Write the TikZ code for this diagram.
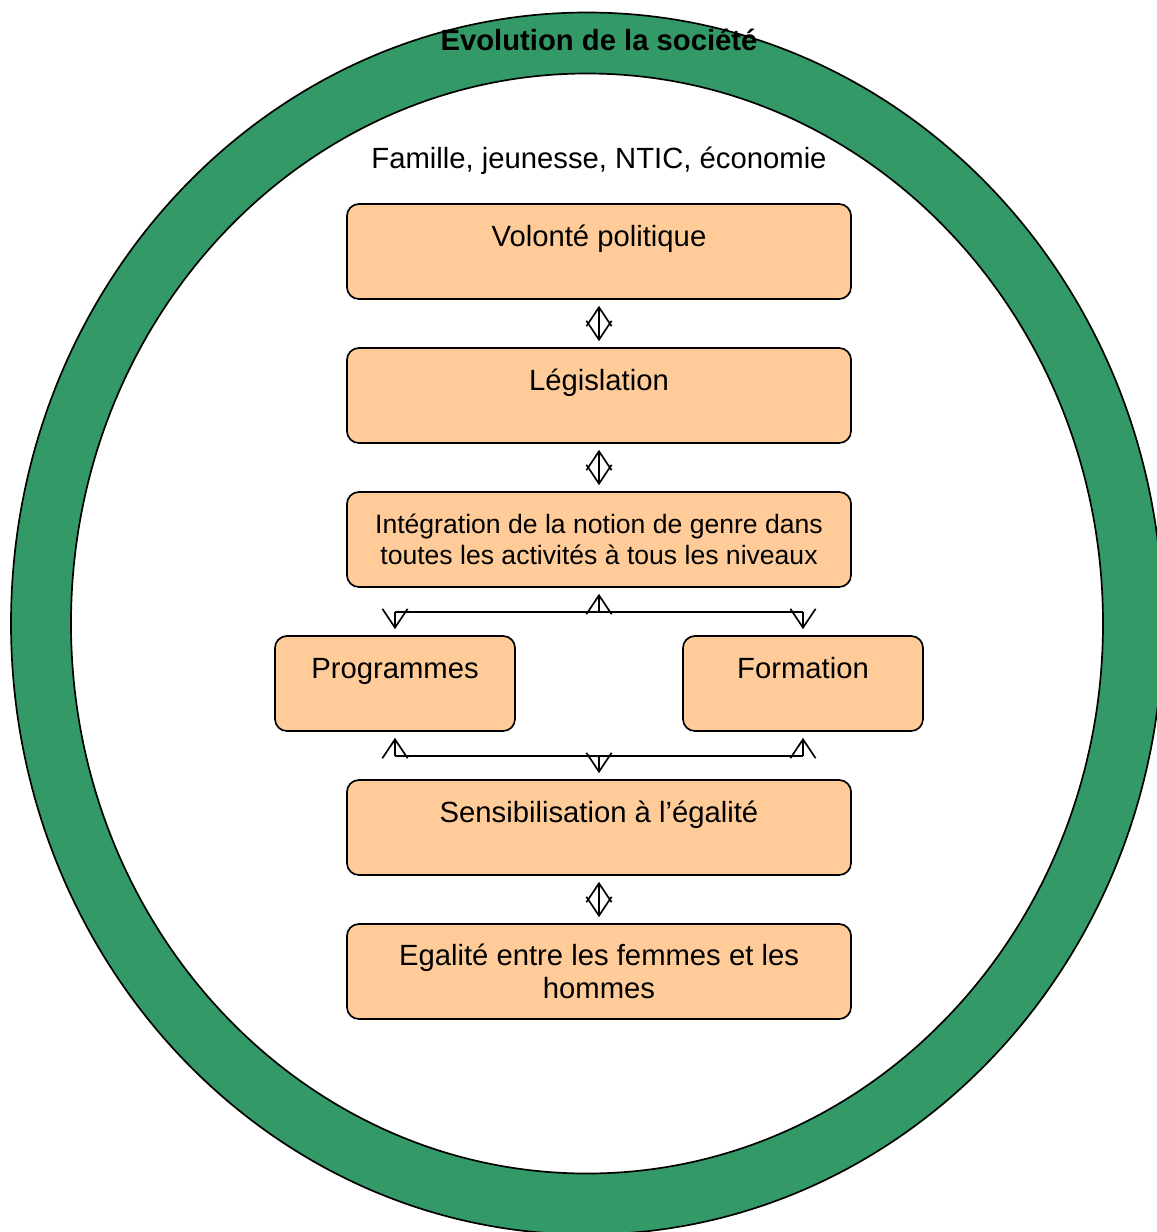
\documentclass[tikz,border=0pt]{standalone}
\usepackage{fontspec}
\setmainfont{Liberation Sans}
\usetikzlibrary{arrows.meta}

\definecolor{peau}{HTML}{FFCC99}
\definecolor{vertsoc}{HTML}{339966}

\begin{document}
\begin{tikzpicture}[x=0.025cm, y=-0.025cm,
  every node/.style={font=\fontsize{20.8}{23.5}\selectfont},
  etape/.style={draw, fill=peau, line width=1.2pt, rounded corners=0.3cm,
    minimum width=12.6cm, minimum height=2.375cm, align=center},
  etapehaut/.style={etape, inner ysep=0pt, text height=1.05cm, text depth=1.325cm},
  petite/.style={etapehaut, minimum width=6cm},
  fleche/.style={line width=1.2pt, {Straight Barb[length=0.47cm,width=0.63cm]}-{Straight Barb[length=0.47cm,width=0.63cm]},
    shorten >=0.15cm, shorten <=0.15cm},
  trait/.style={line width=1.2pt},
  bout/.style={line width=1.2pt, -{Straight Barb[length=0.47cm,width=0.63cm]}, shorten >=0.15cm}]

\useasboundingbox (0,0) rectangle (1157,1232);

% Anneau de la société
\path[draw, line width=1.2pt, fill=vertsoc, even odd rule]
  (587,623.5) ellipse (576 and 611) (587,623.5) ellipse (516 and 550);
\node[font=\fontsize{20.8}{23.5}\selectfont\bfseries] (titre) at (599,40) {Evolution de la société};
\node (contexte) at (599,161) {Famille, jeunesse, NTIC, économie};

% Cadres
\node[etapehaut] (volonte) at (599,251.5) {Volonté politique};
\node[etapehaut] (legislation) at (599,395.5) {Législation};
\node[etape, font=\fontsize{18.9}{22}\selectfont] (integration) at (599,539.5)
  {Intégration de la notion de genre dans\\toutes les activités à tous les niveaux};
\node[petite] (programmes) at (395,683.5) {Programmes};
\node[petite] (formation) at (803,683.5) {Formation};
\node[etapehaut] (sensib) at (599,827.5) {Sensibilisation à l’égalité};
\node[etape] (egalite) at (599,971.5) {Egalité entre les femmes et les\\hommes};

% Flèches entre les cadres
\draw[fleche] (volonte) -- (legislation);
\draw[fleche] (legislation) -- (integration);
\draw[fleche] (sensib) -- (egalite);

% Embranchement du haut
\coordinate (haut) at (599,612);
\coordinate (hautG) at (395,612);
\coordinate (hautD) at (803,612);
\draw[trait] (hautG) -- (hautD);
\draw[bout] (haut) -- (integration);
\draw[bout] (hautG) -- (programmes);
\draw[bout] (hautD) -- (formation);

% Embranchement du bas
\coordinate (bas) at (599,756);
\coordinate (basG) at (395,756);
\coordinate (basD) at (803,756);
\draw[trait] (basG) -- (basD);
\draw[bout] (basG) -- (programmes);
\draw[bout] (basD) -- (formation);
\draw[bout] (bas) -- (sensib);

\end{tikzpicture}
\end{document}
